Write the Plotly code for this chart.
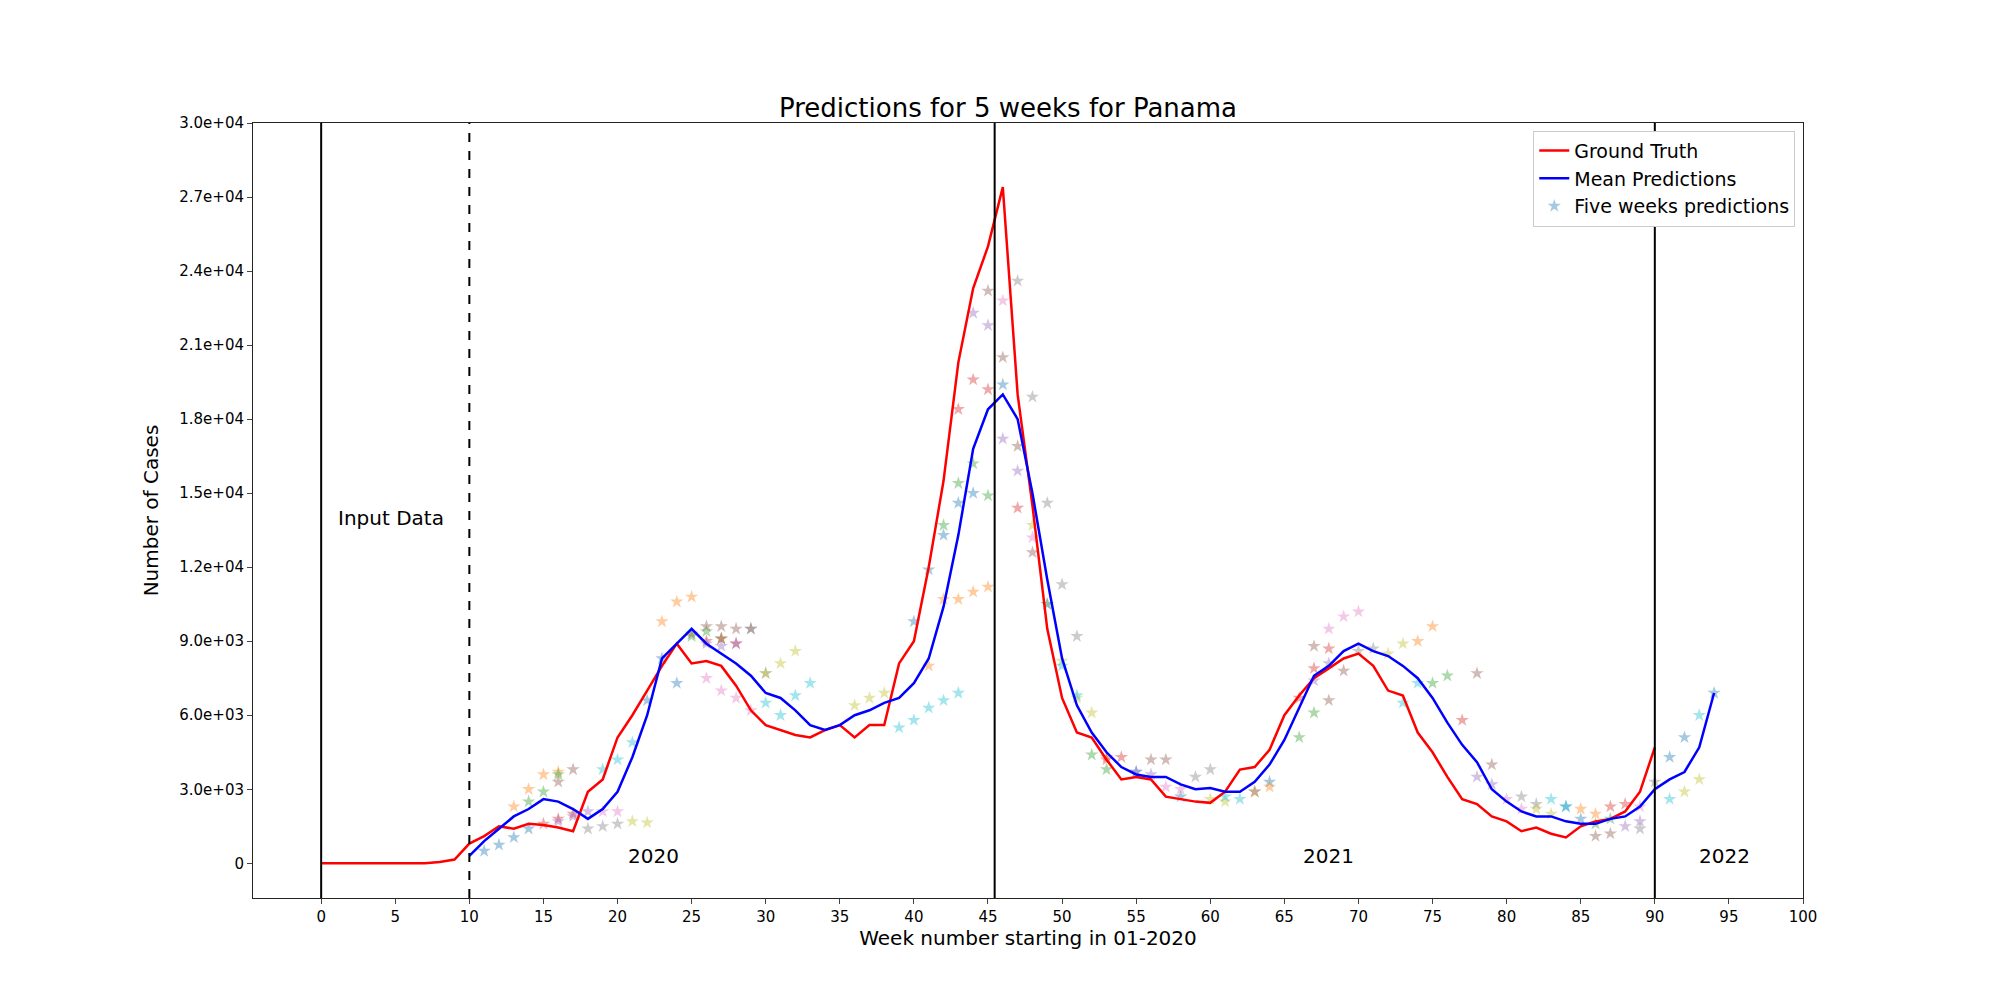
import plotly.graph_objects as go

gt_weeks = list(range(0, 91))
gt_values = [0, 0, 0, 0, 0, 0, 0, 0, 50, 150,
             800, 1100, 1500, 1400, 1600, 1550, 1450, 1300, 2900, 3400,
             5100, 6000, 7000, 8000, 8900, 8100, 8200, 8000, 7200, 6200,
             5600, 5400, 5200, 5100, 5400, 5600, 5100, 5600, 5600, 8100,
             9000, 12000, 15500, 20300, 23300, 25000, 27400, 19000, 14500, 9500,
             6700, 5300, 5100, 4200, 3400, 3500, 3400, 2700, 2600, 2500,
             2450, 2900, 3800, 3900, 4600, 6000, 6800, 7500, 7900, 8300,
             8500, 8000, 7000, 6800, 5300, 4500, 3500, 2600, 2400, 1900,
             1700, 1300, 1450, 1200, 1050, 1500, 1700, 1800, 2100, 2900,
             4700]

mean_weeks = list(range(10, 95))
mean_values = [300, 900, 1400, 1900, 2200, 2600, 2500, 2200, 1800, 2200,
               2900, 4300, 6000, 8300, 8900, 9500, 8900, 8500, 8100, 7600,
               6900, 6700, 6200, 5600, 5400, 5600, 6000, 6200, 6500, 6700,
               7300, 8300, 10400, 13300, 16800, 18400, 19000, 18000, 15000, 11500,
               8300, 6400, 5300, 4500, 3900, 3600, 3500, 3500, 3200, 3000,
               3050, 2900, 2900, 3300, 4000, 5000, 6300, 7600, 8000, 8600,
               8900, 8600, 8400, 8000, 7500, 6700, 5700, 4800, 4100, 3000,
               2500, 2100, 1900, 1900, 1700, 1600, 1600, 1800, 1900, 2300,
               3000, 3400, 3700, 4700, 6900]

# five-week prediction stars, grouped by colour
stars = {
    "#1f77b4": ([11, 12, 13, 14, 22, 23, 24, 40, 41, 42, 43, 44, 46, 55, 58, 63, 64, 84, 85, 91, 92, 94],
                [500, 750, 1050, 1400, 6600, 8300, 7300, 9800, 11900, 13300, 14600, 15000, 19400, 3700, 2700, 2900, 3300, 2300, 1800, 4300, 5100, 6900]),
    "#ff7f0e": ([13, 14, 15, 16, 23, 24, 25, 41, 42, 43, 44, 45, 53, 63, 64, 74, 75, 85, 86],
                [2300, 3000, 3600, 3700, 9800, 10600, 10800, 8000, 10700, 10700, 11000, 11200, 4300, 2900, 3100, 9000, 9600, 2200, 2000]),
    "#2ca02c": ([14, 15, 16, 25, 26, 27, 42, 43, 44, 45, 52, 53, 66, 67, 75, 76, 86, 87],
                [2500, 2900, 3600, 9200, 9400, 9100, 13700, 15400, 16200, 14900, 4400, 3800, 5100, 6100, 7300, 7600, 1600, 1800]),
    "#d62728": ([15, 16, 17, 26, 27, 28, 43, 44, 45, 47, 53, 54, 66, 67, 68, 77, 87, 88],
                [1600, 1800, 2000, 9000, 9100, 8900, 18400, 19600, 19200, 14400, 4200, 4300, 6700, 7900, 8700, 5800, 2300, 2400]),
    "#9467bd": ([16, 17, 18, 26, 27, 28, 44, 45, 46, 47, 55, 56, 67, 68, 78, 79, 88, 89],
                [1700, 1900, 2100, 8900, 8800, 8900, 22300, 21800, 17200, 15900, 3700, 3600, 7400, 8100, 3500, 3200, 1500, 1700]),
    "#8c564b": ([16, 17, 25, 26, 27, 28, 29, 45, 46, 47, 48, 56, 57, 67, 68, 69, 78, 79, 86, 87],
                [3300, 3800, 9300, 9600, 9600, 9500, 9500, 23200, 20500, 16900, 12600, 4200, 4200, 8800, 6600, 7800, 7700, 4000, 1100, 1200]),
    "#e377c2": ([19, 20, 26, 27, 28, 29, 46, 48, 49, 57, 58, 68, 69, 70, 80, 81, 89],
                [2100, 2100, 7500, 7000, 6700, 6200, 22800, 13200, 10500, 3100, 3000, 9500, 10000, 10200, 2600, 2200, 2300]),
    "#7f7f7f": ([18, 19, 20, 29, 30, 47, 48, 49, 50, 51, 59, 60, 70, 71, 81, 82, 89, 90],
                [1400, 1500, 1600, 9500, 7700, 23600, 18900, 14600, 11300, 9200, 3500, 3800, 8600, 8700, 2700, 2400, 1400, 3300]),
    "#bcbd22": ([21, 22, 30, 31, 32, 36, 37, 38, 48, 49, 50, 51, 52, 60, 61, 72, 73, 82, 83, 92, 93],
                [1700, 1650, 7700, 8100, 8600, 6400, 6700, 6900, 13700, 10500, 8200, 6700, 6100, 2600, 2500, 8500, 8900, 2200, 2000, 2900, 3400]),
    "#17becf": ([19, 20, 21, 30, 31, 32, 33, 39, 40, 41, 42, 43, 49, 50, 51, 61, 62, 73, 74, 83, 84, 91, 93],
                [3800, 4200, 4900, 6500, 6000, 6800, 7300, 5500, 5800, 6300, 6600, 6900, 10500, 8000, 6800, 2700, 2600, 6500, 7300, 2600, 2300, 2600, 6000]),
}

fig = go.Figure()

first = True
for color, (wk, vals) in stars.items():
    fig.add_trace(go.Scatter(
        x=wk, y=vals, mode="markers",
        marker=dict(symbol="star", size=10, color=color, opacity=0.4),
        name="Five weeks predictions", showlegend=first, legendrank=3,
    ))
    first = False

fig.add_trace(go.Scatter(x=gt_weeks, y=gt_values, mode="lines", name="Ground Truth",
                         line=dict(color="red", width=2.5), legendrank=1))
fig.add_trace(go.Scatter(x=mean_weeks, y=mean_values, mode="lines", name="Mean Predictions",
                         line=dict(color="blue", width=2.5), legendrank=2))

for xv, dash in [(0, "solid"), (10, "dash"), (45.45, "solid"), (90, "solid")]:
    fig.add_vline(x=xv, line=dict(color="black", width=2, dash=dash), opacity=1, layer="above")

for txt, xv, yv in [("Input Data", 1, 14000), ("2020", 22.4, 300), ("2021", 68, 300), ("2022", 94.7, 300)]:
    fig.add_annotation(x=xv, y=yv, text=txt, showarrow=False, xanchor="left" if txt == "Input Data" else "center",
                       font=dict(size=20, color="black"))

yticks = list(range(0, 30001, 3000))
ylabels = ["0"] + [f"{v:.1e}" for v in yticks[1:]]

fig.update_layout(
    width=2000, height=1000,
    template="simple_white",
    font=dict(family="DejaVu Sans", color="black"),
    title=dict(text="Predictions for 5 weeks for Panama", x=0.5, xanchor="center", y=0.9, yanchor="middle",
               font=dict(size=26)),
    margin=dict(l=245, r=205, t=115, b=110),
    legend=dict(x=0.995, y=0.99, xanchor="right", yanchor="top", bordercolor="#cccccc", borderwidth=1,
                font=dict(size=19)),
)
fig.update_xaxes(range=[-4.6, 100], tickvals=list(range(0, 101, 5)), mirror=True, showline=True,
                 ticks="outside", tickfont=dict(size=15), title=dict(text="Week number starting in 01-2020", font=dict(size=20), standoff=2))
fig.update_yaxes(range=[-1406, 30000], tickvals=yticks, ticktext=ylabels, mirror=True, showline=True,
                 ticks="outside", tickfont=dict(size=15), title=dict(text="Number of Cases", font=dict(size=20)))

fig.write_html("out.html")
